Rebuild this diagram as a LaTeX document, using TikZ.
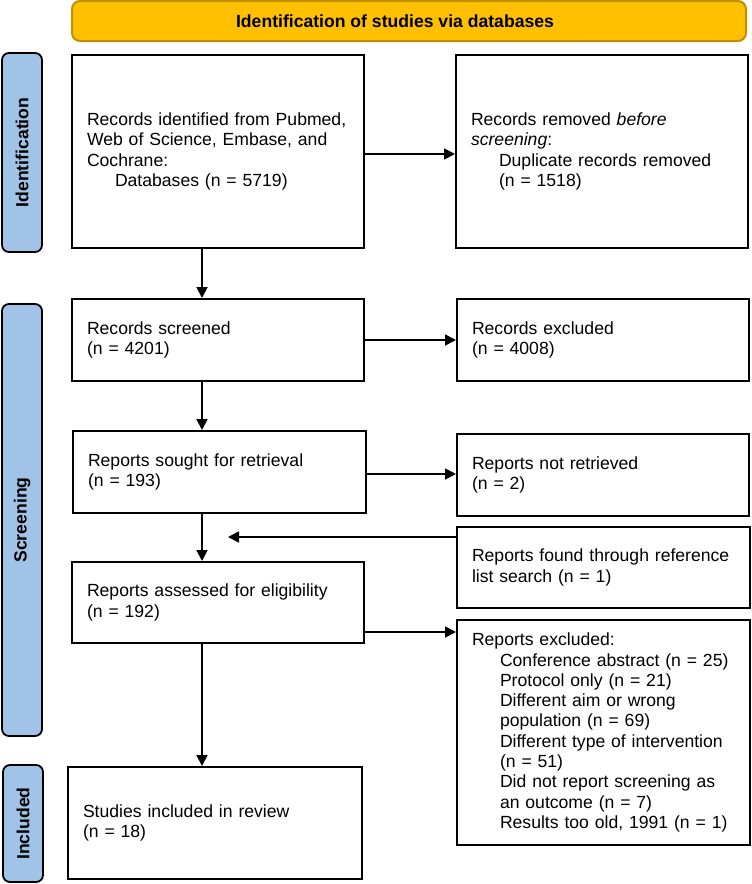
\documentclass[tikz,border=0pt]{standalone}
\usepackage{fontspec}
\setmainfont{Liberation Sans}
\usetikzlibrary{arrows.meta}
\definecolor{gold}{HTML}{FFC000}
\definecolor{golddark}{HTML}{BF9000}
\definecolor{sideblue}{HTML}{A2C3E8}
\begin{document}
\begin{tikzpicture}[x=1pt,y=-1pt,
  every node/.style={font=\fontsize{17.6}{20.3}\selectfont},
  box/.style 2 args={draw=black, line width=2pt, fill=white, inner xsep=15pt,
    inner ysep=0pt, align=left, text width=#1, minimum height=#2, anchor=center},
  side/.style={draw=black, line width=1.8pt, fill=sideblue, rounded corners=7pt,
    minimum height=40pt, inner sep=0pt, rotate=90, anchor=center,
    font=\fontsize{17.6}{20.3}\selectfont\bfseries},
  banner/.style={draw=golddark, line width=2pt, fill=gold, rounded corners=8pt,
    minimum width=674pt, minimum height=40pt, inner sep=0pt, anchor=center},
  arr/.style={line width=1.8pt, -{Triangle[length=11pt,width=11pt]}}
]
\useasboundingbox (0,0) rectangle (752,884);

% banner
\node[banner] (ban) at (409,21) {};
\node[font=\fontsize{17.6}{20.3}\selectfont\bfseries, inner sep=0pt] (bantxt) at (395,21) {Identification of studies via databases};

% side labels
\node[side, minimum width=199pt] (sid) at (22,152.5) {Identification};
\node[side, minimum width=432pt] (sscr) at (22,520) {Screening};
\node[side, minimum width=117pt] (sinc) at (23,823.5) {Included};

% boxes
\node[box={262pt}{193pt}] (idb) at (218,151.5) {Records identified from Pubmed,\\Web of Science, Embase, and\\Cochrane:\\\hspace*{28pt}Databases (n = 5719)};
\node[box={262pt}{193pt}] (dup) at (602,151.5) {Records removed \textit{before}\\\textit{screening}:\\\hspace*{28pt}Duplicate records removed\\\hspace*{28pt}(n = 1518)};
\node[box={262pt}{82pt}] (scr) at (218,340) {Records screened\\(n = 4201)};
\node[box={262pt}{82pt}] (exc) at (603,340) {Records excluded\\(n = 4008)};
\node[box={263pt}{82pt}] (sought) at (219.5,472) {Reports sought for retrieval\\(n = 193)};
\node[box={262pt}{82pt}] (notret) at (603,475) {Reports not retrieved\\(n = 2)};
\node[box={263pt}{81pt}] (ref) at (603.5,567.5) {Reports found through reference\\list search (n = 1)};
\node[box={262pt}{81pt}] (assess) at (218,602.5) {Reports assessed for eligibility\\(n = 192)};
\node[box={263pt}{225pt}] (repexc) at (603.5,732.5) {Reports excluded:\\
\hspace*{28pt}Conference abstract (n = 25)\\
\hspace*{28pt}Protocol only (n = 21)\\
\hspace*{28pt}Different aim or wrong\\
\hspace*{28pt}population (n = 69)\\
\hspace*{28pt}Different type of intervention\\
\hspace*{28pt}(n = 51)\\
\hspace*{28pt}Did not report screening as\\
\hspace*{28pt}an outcome (n = 7)\\
\hspace*{28pt}Results too old, 1991 (n = 1)};
\node[box={264pt}{112pt}] (incl) at (215,823) {Studies included in review\\(n = 18)};

% helper coordinates
\coordinate (col) at (202,0);
\coordinate (join) at (228,537);
\coordinate (exr) at ([yshift=-13pt]repexc.north west);

% connectors
\draw[arr] ([yshift=-2.5pt]idb.east) -- ([yshift=-2.5pt]dup.west);
\draw[arr] (idb.south -| col) -- (scr.north -| col);
\draw[arr] (scr.east) -- (exc.west);
\draw[arr] (scr.south -| col) -- (sought.north -| col);
\draw[arr] ([yshift=-2pt]sought.east) -- ([yshift=-2pt]sought.east -| notret.west);
\draw[arr] (sought.south -| col) -- (assess.north -| col);
\draw[arr] (ref.north west |- join) -- (join);
\draw[arr] (assess.east |- exr) -- (exr);
\draw[arr] (assess.south -| col) -- (incl.north -| col);
\end{tikzpicture}
\end{document}
